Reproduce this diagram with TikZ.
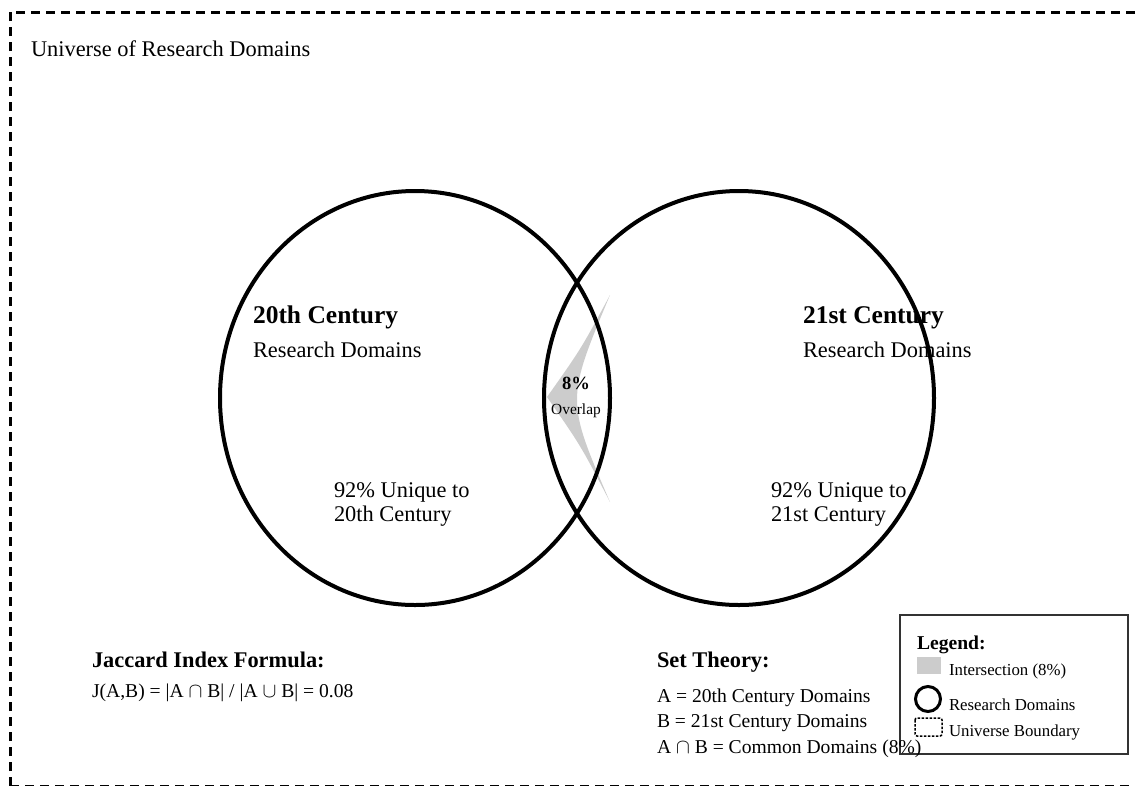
\documentclass[tikz,border=0pt]{standalone}
\usepackage{fontspec}
\setmainfont{Liberation Serif}
\usetikzlibrary{shapes.geometric}
\newcommand\fsz[1]{\fontsize{#1}{#1}\selectfont}
\definecolor{overlapgray}{HTML}{CCCCCC}
\definecolor{legendborder}{HTML}{333333}
\tikzset{
  txt/.style={anchor=base west, inner sep=0pt, outer sep=0pt, text=black},
  big/.style={txt, font=\fsz{22.4}},
  bigb/.style={txt, font=\fsz{22.4}\bfseries},
  title/.style={txt, font=\fsz{25.5}\bfseries},
  mid/.style={txt, font=\fsz{19.6}},
  small/.style={txt, font=\fsz{16.8}},
  setellipse/.style={draw=black, line width=4pt, ellipse, inner sep=0pt,
    minimum width=390pt, minimum height=414pt},
  universe/.style={draw=black, line width=3pt, dash pattern=on 9pt off 6pt},
}
\begin{document}
\begin{tikzpicture}[x=1pt, y=-1pt]
\useasboundingbox (0,0) rectangle (1135,785);
% universe boundary
\draw[universe] (10,786) -- (10,12) -- (1150,12);
\draw[universe] (10,786) -- (1150,786);
\node[big] (utitle) at (31,56) {Universe of Research Domains};
% overlap shading
\fill[overlapgray] (610,295) .. controls (581,349) .. (547,397)
   .. controls (581,446) .. (610,502) .. controls (566,400) .. (610,295) -- cycle;
% sets
\node[setellipse] (A) at (415,398) {};
\node[setellipse] (B) at (739,398) {};
% labels in sets
\node[title] (Atitle) at (253,323) {20th Century};
\node[big] (Asub) at (253,357) {Research Domains};
\node[title] (Btitle) at (803,323) {21st Century};
\node[big] (Bsub) at (803,357) {Research Domains};
\node[big] (Auniq1) at (334,497) {92\% Unique to};
\node[big] (Auniq2) at (334,521) {20th Century};
\node[big] (Buniq1) at (771,497) {92\% Unique to};
\node[big] (Buniq2) at (771,521) {21st Century};
\node[anchor=base, inner sep=0pt, font=\fsz{18.6}\bfseries] (pct) at (576,389) {8\%};
\node[anchor=base, inner sep=0pt, font=\fsz{15.4}] (ovl) at (576,414) {Overlap};
% legend box (drawn first, text of set theory lies over it)
\node[draw=legendborder, line width=2pt, inner sep=0pt, anchor=north west,
  minimum width=228pt, minimum height=139pt] (legend) at (899,614) {};
\node[txt, font=\fsz{19.6}\bfseries] (ltitle) at (917,649) {Legend:};
\fill[overlapgray] (917,657) rectangle (941,674);
\node[small] (l1) at (949,675) {Intersection (8\%)};
\node[draw=black, line width=3pt, circle, inner sep=0pt, minimum size=25pt] (lcirc) at (928,699) {};
\node[small] (l2) at (949,710) {Research Domains};
\draw[black, line width=1.5pt, dash pattern=on 2.5pt off 1.5pt, rounded corners=2pt]
  (915,718) rectangle (942,736);
\node[small] (l3) at (949,736) {Universe Boundary};
% Jaccard
\node[bigb] (jtitle) at (92,667) {Jaccard Index Formula:};
\node[mid] (jform) at (92,697) {J(A,B) = |A $\cap$ B| / |A $\cup$ B| = 0.08};
% set theory
\node[bigb] (stitle) at (657,667) {Set Theory:};
\node[mid] (s1) at (657,702) {A = 20th Century Domains};
\node[mid] (s2) at (657,727) {B = 21st Century Domains};
\node[mid] (s3) at (657,753) {A $\cap$ B = Common Domains (8\%)};
\end{tikzpicture}
\end{document}
